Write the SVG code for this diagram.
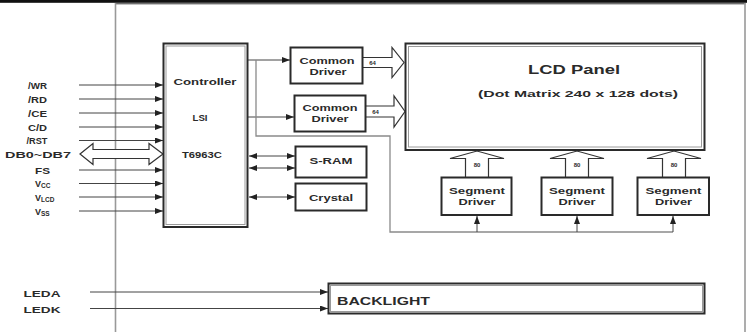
<svg xmlns="http://www.w3.org/2000/svg" width="747" height="332" viewBox="0 0 747 332">
<style>
text{font-family:"Liberation Sans",Arial,sans-serif;font-weight:bold;fill:#2a2a2a}
.lbl{font-size:9px}
.box{fill:#fff;stroke:#2a2a2a;stroke-width:2}
.in{fill:none;stroke:#9a9a9a;stroke-width:1}
.ln{fill:none;stroke:#444;stroke-width:1}
.gl{fill:none;stroke:#8a8a8a;stroke-width:1.3}
.bus{fill:#fff;stroke:#333;stroke-width:1.2;stroke-linejoin:miter}
.t9{font-size:9.5px}
.sm{font-size:6px}
.sub{font-size:6.5px}
</style>
<defs>
<marker id="ah" markerUnits="userSpaceOnUse" markerWidth="8" markerHeight="6" refX="8" refY="3" orient="auto-start-reverse">
<path d="M0,0 L8,3 L0,6 z" fill="#222"/>
</marker>
</defs>
<g id="frame">
<rect x="0" y="0" width="747" height="2.8" fill="#111"/>
<line x1="115" y1="3.8" x2="745.5" y2="3.8" stroke="#333" stroke-width="1"/>
<line x1="115.5" y1="3" x2="115.5" y2="332" stroke="#999" stroke-width="1.6"/>
<line x1="745" y1="3" x2="745" y2="332" stroke="#999" stroke-width="1.6"/>
</g>
<g id="signals">
<text class="lbl" x="37.5" y="88.5" text-anchor="middle" textLength="19" lengthAdjust="spacingAndGlyphs">/WR</text>
<text class="lbl" x="37.5" y="102.5" text-anchor="middle" textLength="19" lengthAdjust="spacingAndGlyphs">/RD</text>
<text class="lbl" x="37.5" y="116.5" text-anchor="middle" textLength="19" lengthAdjust="spacingAndGlyphs">/CE</text>
<text class="lbl" x="37.5" y="130.5" text-anchor="middle" textLength="19" lengthAdjust="spacingAndGlyphs">C/D</text>
<text class="lbl" x="37" y="144" text-anchor="middle" textLength="21" lengthAdjust="spacingAndGlyphs">/RST</text>
<text class="lbl" x="38" y="157.5" text-anchor="middle" textLength="66" lengthAdjust="spacingAndGlyphs">DB0~DB7</text>
<text class="lbl" x="42.5" y="173.5" text-anchor="middle" textLength="15" lengthAdjust="spacingAndGlyphs">FS</text>
<text class="lbl" x="35" y="186.5">V<tspan class="sub" dy="1">CC</tspan></text>
<text class="lbl" x="35" y="200.5">V<tspan class="sub" dy="1">LCD</tspan></text>
<text class="lbl" x="35" y="214.5">V<tspan class="sub" dy="1">SS</tspan></text>
<text class="lbl" x="42" y="297" text-anchor="middle" textLength="37" lengthAdjust="spacingAndGlyphs">LEDA</text>
<text class="lbl" x="42" y="313" text-anchor="middle" textLength="37" lengthAdjust="spacingAndGlyphs">LEDK</text>
</g>
<g id="connectors">
<line class="ln" x1="79" y1="85" x2="163" y2="85" marker-end="url(#ah)"/>
<line class="ln" x1="79" y1="99" x2="163" y2="99" marker-end="url(#ah)"/>
<line class="ln" x1="79" y1="113" x2="163" y2="113" marker-end="url(#ah)"/>
<line class="ln" x1="79" y1="127" x2="163" y2="127" marker-end="url(#ah)"/>
<line class="ln" x1="79" y1="140.5" x2="163" y2="140.5" marker-end="url(#ah)"/>
<line class="ln" x1="79" y1="170" x2="163" y2="170" marker-end="url(#ah)"/>
<line class="ln" x1="79" y1="183.5" x2="163" y2="183.5" marker-end="url(#ah)"/>
<line class="ln" x1="79" y1="197" x2="163" y2="197" marker-end="url(#ah)"/>
<line class="ln" x1="79" y1="211" x2="163" y2="211" marker-end="url(#ah)"/>
<path class="bus" d="M80,154 L93,143.5 L93,149.5 L149,149.5 L149,143.5 L163,154 L149,164.5 L149,158.5 L93,158.5 L93,164.5 Z"/>
<line class="ln" x1="248" y1="60" x2="290" y2="60" marker-end="url(#ah)"/>
<line class="ln" x1="248" y1="117" x2="294" y2="117" marker-end="url(#ah)"/>
<line class="ln" x1="249" y1="156" x2="295" y2="156" marker-start="url(#ah)" marker-end="url(#ah)"/>
<line class="ln" x1="249" y1="168" x2="295" y2="168" marker-start="url(#ah)" marker-end="url(#ah)"/>
<line class="ln" x1="249" y1="197" x2="295" y2="197" marker-start="url(#ah)" marker-end="url(#ah)"/>
<path class="gl" d="M256,60 L256,136 L390,136 L390,232 L673,232"/>
<line class="ln" x1="477" y1="232" x2="477" y2="216" marker-end="url(#ah)"/>
<line class="ln" x1="577" y1="232" x2="577" y2="216" marker-end="url(#ah)"/>
<line class="ln" x1="673" y1="232" x2="673" y2="216" marker-end="url(#ah)"/>
<path class="bus" d="M363,57.5 L392,57.5 L392,47.5 L404,62.5 L392,77.5 L392,67.5 L363,67.5"/>
<path class="bus" d="M366,106 L394,106 L394,96 L405,111.5 L394,127 L394,117 L366,117"/>
<text class="sm" x="372.5" y="65" text-anchor="middle">64</text>
<text class="sm" x="375.5" y="114" text-anchor="middle">64</text>
<path class="bus" d="M465.5,177 L465.5,158.5 L450,158.5 L477,151 L504,158.5 L488.5,158.5 L488.5,177"/>
<path class="bus" d="M565.5,177 L565.5,158.5 L550,158.5 L577,151 L604,158.5 L588.5,158.5 L588.5,177"/>
<path class="bus" d="M662.5,177 L662.5,158.5 L647,158.5 L674,151 L701,158.5 L685.5,158.5 L685.5,177"/>
<text class="sm" x="477" y="167" text-anchor="middle">80</text>
<text class="sm" x="577" y="167" text-anchor="middle">80</text>
<text class="sm" x="674" y="167" text-anchor="middle">80</text>
<line class="ln" x1="90" y1="292" x2="328" y2="292" marker-end="url(#ah)"/>
<line class="ln" x1="90" y1="308.5" x2="328" y2="308.5" marker-end="url(#ah)"/>
</g>
<g id="controller">
<rect class="box" x="163.5" y="43.5" width="84" height="183.5" stroke-width="2.5"/>
<rect class="in" x="166" y="46" width="79" height="178.5"/>
<text class="t9" x="205" y="85" text-anchor="middle" textLength="63" lengthAdjust="spacingAndGlyphs">Controller</text>
<text class="t9" x="200" y="121" text-anchor="middle" textLength="15" lengthAdjust="spacingAndGlyphs">LSI</text>
<text class="t9" x="202" y="158" text-anchor="middle" textLength="40" lengthAdjust="spacingAndGlyphs">T6963C</text>
</g>
<g id="common1">
<rect class="box" x="290.5" y="47.5" width="72" height="36"/>
<text class="lbl" x="327" y="64" text-anchor="middle" textLength="55" lengthAdjust="spacingAndGlyphs">Common</text>
<text class="lbl" x="328" y="75" text-anchor="middle" textLength="37" lengthAdjust="spacingAndGlyphs">Driver</text>
</g>
<g id="common2">
<rect class="box" x="294.5" y="95.5" width="71" height="36"/>
<text class="lbl" x="330" y="111" text-anchor="middle" textLength="55" lengthAdjust="spacingAndGlyphs">Common</text>
<text class="lbl" x="330" y="122" text-anchor="middle" textLength="37" lengthAdjust="spacingAndGlyphs">Driver</text>
</g>
<g id="sram">
<rect class="box" x="295.5" y="146.5" width="71" height="31"/>
<text class="lbl" x="331" y="164" text-anchor="middle" textLength="43" lengthAdjust="spacingAndGlyphs">S-RAM</text>
</g>
<g id="crystal">
<rect class="box" x="295.5" y="183.5" width="71" height="27"/>
<text class="lbl" x="331" y="200.5" text-anchor="middle" textLength="44" lengthAdjust="spacingAndGlyphs">Crystal</text>
</g>
<g id="lcd">
<rect class="box" x="405.5" y="43.5" width="299" height="106.5" stroke-width="2.5"/>
<rect class="in" x="408.5" y="46.5" width="293" height="100.5" stroke-width="1.4"/>
<text x="574" y="73.5" font-size="12.5" text-anchor="middle" textLength="92" lengthAdjust="spacingAndGlyphs">LCD Panel</text>
<text x="578" y="96.5" font-size="9" text-anchor="middle" textLength="200" lengthAdjust="spacingAndGlyphs">(Dot Matrix 240 x 128 dots)</text>
</g>
<g id="seg1">
<rect class="box" x="441.5" y="177.5" width="70" height="37.5"/>
<text class="lbl" x="477" y="194" text-anchor="middle" textLength="56" lengthAdjust="spacingAndGlyphs">Segment</text>
<text class="lbl" x="477" y="205" text-anchor="middle" textLength="37" lengthAdjust="spacingAndGlyphs">Driver</text>
</g>
<g id="seg2">
<rect class="box" x="541.5" y="177.5" width="71" height="37.5"/>
<text class="lbl" x="577" y="194" text-anchor="middle" textLength="56" lengthAdjust="spacingAndGlyphs">Segment</text>
<text class="lbl" x="577" y="205" text-anchor="middle" textLength="37" lengthAdjust="spacingAndGlyphs">Driver</text>
</g>
<g id="seg3">
<rect class="box" x="637.5" y="177.5" width="71.5" height="37.5"/>
<text class="lbl" x="673.5" y="194" text-anchor="middle" textLength="56" lengthAdjust="spacingAndGlyphs">Segment</text>
<text class="lbl" x="673.5" y="205" text-anchor="middle" textLength="37" lengthAdjust="spacingAndGlyphs">Driver</text>
</g>
<g id="backlight">
<rect class="box" x="328.5" y="283.5" width="376" height="30" stroke="#555"/>
<rect class="in" x="330.5" y="285.5" width="372" height="26"/>
<text x="337" y="305" font-size="10.5" textLength="93" lengthAdjust="spacingAndGlyphs">BACKLIGHT</text>
</g>
</svg>
